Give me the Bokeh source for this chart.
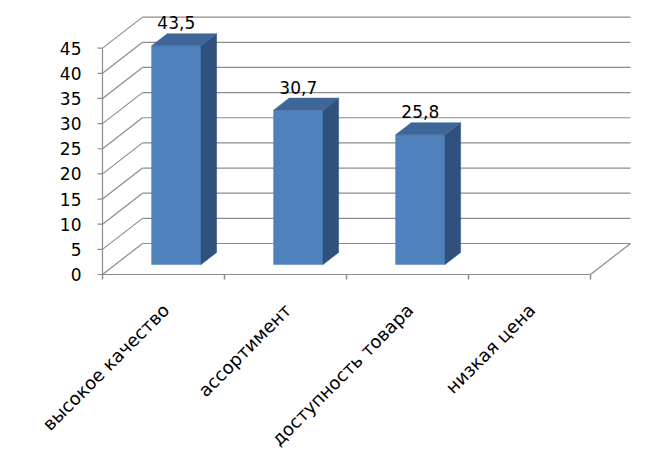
from math import pi
from bokeh.plotting import figure
from bokeh.models import Range1d
from bokeh.core.properties import value
from bokeh.embed import file_html
from bokeh.resources import INLINE

# ---- data ----
categories = ["высокое качество", "ассортимент", "доступность товара", "низкая цена"]
values = [43.5, 30.7, 25.8, None]
labels = ["43,5", "30,7", "25,8", ""]
y_ticks = [0, 5, 10, 15, 20, 25, 30, 35, 40, 45]
y_tick_labels = ["0", "5", "10", "15", "20", "25", "30", "35", "40", "45"]

# ---- layout / style constants ----
PX_X = 122.0        # pixels per category
PX_Y = 5.03         # pixels per value unit
DEPTH_PX_X = 40.0   # 3D depth offset in pixels
DEPTH_PX_Y = 31.0
DX = DEPTH_PX_X / PX_X
DY = DEPTH_PX_Y / PX_Y
F1, F2 = 0.32, 0.71     # bar front/back depth fractions
BAR_W = 0.405           # bar width (category units)
GRID = "#8c8c8c"
FRONT = "#4F81BD"
SIDE = "#30517E"
TOP = "#3E6699"
FONT = value("DejaVu Sans")

n = len(categories)
W, H = 637, 451
ORIGIN_X, ORIGIN_Y = 102.0, 274.0   # pixel position of (0, 0) in the canvas
x_range = Range1d(-ORIGIN_X / PX_X, (W - ORIGIN_X) / PX_X)
y_range = Range1d(-(H - ORIGIN_Y) / PX_Y, ORIGIN_Y / PX_Y)

p = figure(width=W, height=H, output_backend="svg", toolbar_location=None,
           x_range=x_range, y_range=y_range,
           x_axis_location=None, y_axis_location=None,
           min_border=0, outline_line_color=None,
           background_fill_color="white", border_fill_color="white")
p.grid.visible = False

m = len(y_ticks)
# back wall gridlines and side wall diagonals
p.segment(x0=[DX] * m, y0=[t + DY for t in y_ticks],
          x1=[n + DX] * m, y1=[t + DY for t in y_ticks],
          line_color=GRID, line_width=1.2)
p.segment(x0=[0] * m, y0=y_ticks,
          x1=[DX] * m, y1=[t + DY for t in y_ticks],
          line_color=GRID, line_width=1.2)
# floor front + right diagonal
p.segment(x0=[0, n], y0=[0, 0], x1=[n, n + DX], y1=[0, DY],
          line_color=GRID, line_width=1.2)
# value axis: line, ticks, labels
p.segment(x0=[0], y0=[min(y_ticks)], x1=[0], y1=[max(y_ticks)],
          line_color=GRID, line_width=1.2)
p.segment(x0=[0] * m, y0=y_ticks, x1=[-5.0 / PX_X] * m, y1=y_ticks,
          line_color=GRID, line_width=1.2)
p.text(x=[0] * m, y=y_ticks, text=y_tick_labels, x_offset=-21,
       text_align="right", text_baseline="middle",
       text_font=FONT, text_font_size="17px", text_color="black")
# category boundary ticks
p.segment(x0=list(range(n + 1)), y0=[0] * (n + 1),
          x1=list(range(n + 1)), y1=[-5.0 / PX_Y] * (n + 1),
          line_color=GRID, line_width=1.5)

# bars
fx0, fx1, ftop, fbot = [], [], [], []
sxs, sys_, txs, tys = [], [], [], []
lx, ly, lt = [], [], []
for i, v in enumerate(values):
    if v is None:
        continue
    c = i + 0.5
    x0 = c - BAR_W / 2 + F1 * DX
    x1 = c + BAR_W / 2 + F1 * DX
    yb = F1 * DY
    yt = v + F1 * DY
    ddx = (F2 - F1) * DX
    ddy = (F2 - F1) * DY
    fx0.append(x0); fx1.append(x1); fbot.append(yb); ftop.append(yt)
    sxs.append([x1, x1 + ddx, x1 + ddx, x1])
    sys_.append([yb, yb + ddy, yt + ddy, yt])
    txs.append([x0, x1, x1 + ddx, x0 + ddx])
    tys.append([yt, yt, yt + ddy, yt + ddy])
    lx.append((x0 + x1) / 2)
    ly.append(v + F2 * DY)
    lt.append(labels[i])

p.quad(left=fx0, right=fx1, bottom=fbot, top=ftop,
       fill_color=FRONT, line_color=FRONT, line_width=0.5)
p.patches(xs=sxs, ys=sys_, fill_color=SIDE, line_color=SIDE, line_width=0.5)
p.patches(xs=txs, ys=tys, fill_color=TOP, line_color=TOP, line_width=0.5)

# value labels
p.text(x=lx, y=ly, text=lt, text_font=FONT, text_font_size="17px",
       text_align="center", text_baseline="middle", y_offset=-11,
       text_color="black")

# category labels
p.text(x=[i + 0.5 for i in range(n)], y=[0] * n, text=categories,
       angle=pi / 4, text_align="right", text_baseline="top",
       x_offset=-5, y_offset=25, text_font=FONT, text_font_size="18px",
       text_color="black")

open("out.html", "w").write(file_html(p, INLINE))
